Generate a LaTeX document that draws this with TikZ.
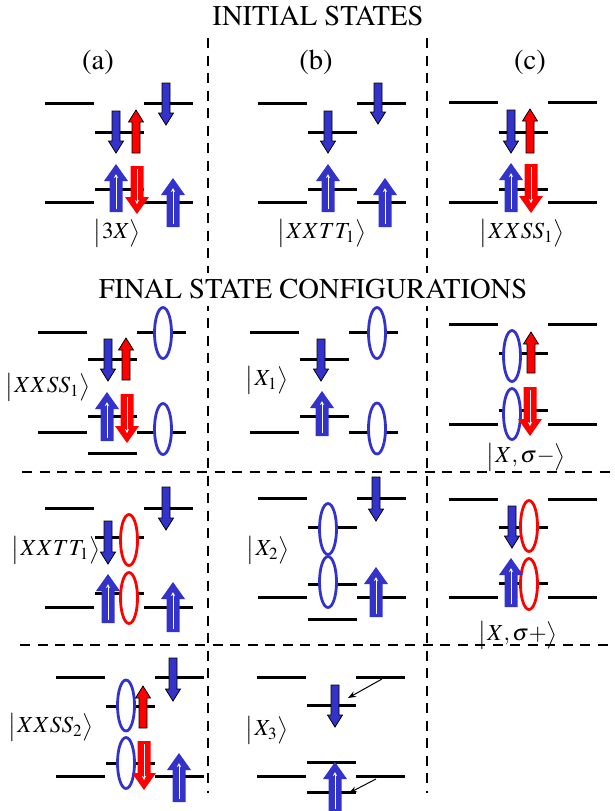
\documentclass[tikz,border=0pt]{standalone}
\usepackage[T1]{fontenc}
\usepackage{mathptmx}
\usepackage{tikz}
\usetikzlibrary{arrows.meta, positioning}
\definecolor{SpinBlue}{RGB}{51, 51, 204}
\definecolor{SpinRed}{RGB}{255, 0, 0}

% six levels of one panel, x measured from the left level
\newcommand{\levels}[4]{%
  \draw[levelline] (0,#1) -- (49,#1) (99,#1) -- (148,#1)
                   (50,#2) -- (99,#2) (50,#3) -- (99,#3)
                   (0,#4) -- (49,#4) (99,#4) -- (148,#4);}
% electron spin: colour, x, tail y, tip y
\newcommand{\spinarrow}[4]{%
  \pgfmathsetmacro{\spinhb}{#4-12*sign(#4-#3)}%
  \filldraw[fill=#1, draw=black, line width=0.4pt]
    ({#2-4},#3) -- ({#2-4},\spinhb) -- ({#2-7.5},\spinhb) -- (#2,#4)
    -- ({#2+7.5},\spinhb) -- ({#2+4},\spinhb) -- ({#2+4},#3) -- cycle;}
% hole spin: colour, x, tail y, tip y
\newcommand{\holearrow}[4]{%
  \pgfmathsetmacro{\holehb}{#4-17*sign(#4-#3)}%
  \pgfmathsetmacro{\holetip}{#4-10*sign(#4-#3)}%
  \pgfmathsetmacro{\holetail}{#3+3*sign(#4-#3)}%
  \fill[#1] ({#2-6.5},#3) -- ({#2-6.5},\holehb) -- ({#2-12},\holehb) -- (#2,#4)
    -- ({#2+12},\holehb) -- ({#2+6.5},\holehb) -- ({#2+6.5},#3) -- cycle;
  \draw[white, line width=0.5pt, -{Stealth[length=2pt, width=2pt]}]
    (#2,\holetail) -- (#2,\holetip);}
% state label
\newcommand{\ketlabel}[1]{$\bigl|\mkern1mu#1\bigr\rangle$}

\begin{document}
\begin{tikzpicture}[x=0.5pt, y=-0.5pt,
    levelline/.style={line width=1.5pt},
    orbit/.style={line width=1.4pt, fill=white, draw=#1},
    divider/.style={dash pattern=on 5pt off 3.75pt, line width=1pt},
    pointer/.style={line width=0.5pt, -{Stealth[length=4pt, width=3pt]}},
    ket/.style={font=\fontsize{11.5}{13}\selectfont, inner sep=0pt},
    heading/.style={font=\fontsize{14.3}{16}\selectfont}]
  \useasboundingbox (0,0) rectangle (615,811);

  % dividers
  \draw[divider] (208,38) -- (208,793);
  \draw[divider] (427,38) -- (427,793);
  \draw[divider] (22,472) -- (612,472);
  \draw[divider] (20,645) -- (615,645);

  \node[heading] (initial) at (318,16) {INITIAL STATES};
  \node[heading, fill=white] (final) at (313,289) {FINAL STATE CONFIGURATIONS};
  \node[heading] (lbla) at (98,62) {(a)};
  \node[heading] (lblb) at (316,62) {(b)};
  \node[heading] (lblc) at (530,62) {(c)};

  % (a) initial
  \begin{scope}[shift={(45,0)}]
    \levels{103}{132}{189}{202}
    \spinarrow{SpinBlue}{121}{83}{125}
    \spinarrow{SpinBlue}{71}{111}{153}
    \spinarrow{SpinRed}{91}{153}{110}
    \holearrow{SpinBlue}{71}{212}{164}
    \holearrow{SpinRed}{92}{166}{214}
    \holearrow{SpinBlue}{128}{227}{178}
    \node[ket] (ka0) at (72,233) {\ketlabel{3X}};
  \end{scope}

  % (b) initial
  \begin{scope}[shift={(258,0)}]
    \levels{103}{132}{189}{202}
    \spinarrow{SpinBlue}{120}{83}{124}
    \spinarrow{SpinBlue}{70}{111}{153}
    \holearrow{SpinBlue}{70}{212}{164}
    \holearrow{SpinBlue}{127}{227}{178}
    \node[ket] (kb0) at (64,233) {\ketlabel{XXTT_1}};
  \end{scope}

  % (c) initial
  \begin{scope}[shift={(449,0)}]
    \levels{102}{132}{189}{202}
    \spinarrow{SpinBlue}{62}{110}{153}
    \spinarrow{SpinRed}{81}{153}{109}
    \holearrow{SpinBlue}{62}{212}{163}
    \holearrow{SpinRed}{82}{164}{213}
    \node[ket] (kc0) at (73,233) {\ketlabel{XXSS_1}};
  \end{scope}

  % (a) final, first row
  \begin{scope}[shift={(38,0)}]
    \levels{332}{359}{416}{432}
    \draw[levelline] (50,453) -- (99,453);
    \draw[orbit=SpinBlue] (125,333) ellipse [x radius=4.25pt, y radius=12.75pt];
    \draw[orbit=SpinBlue] (125,429) ellipse [x radius=4.25pt, y radius=12.75pt];
    \spinarrow{SpinBlue}{70}{339}{381}
    \spinarrow{SpinRed}{88}{380}{338}
    \holearrow{SpinBlue}{69}{441}{392}
    \holearrow{SpinRed}{89}{394}{443}
    \node[ket] (ka1) at (10,387) {\ketlabel{XXSS_1}};
  \end{scope}

  % (b) final, first row
  \begin{scope}[shift={(250,0)}]
    \levels{332}{359}{416}{432}
    \draw[orbit=SpinBlue] (127,333) ellipse [x radius=4.25pt, y radius=12.75pt];
    \draw[orbit=SpinBlue] (127,428.5) ellipse [x radius=4.25pt, y radius=12.75pt];
    \spinarrow{SpinBlue}{71}{339}{381}
    \holearrow{SpinBlue}{72}{436}{391}
    \node[ket] (kb1) at (17,380) {\ketlabel{X_1}};
  \end{scope}

  % (c) final, first row
  \begin{scope}[shift={(449,0)}]
    \levels{324}{353}{410}{424}
    \draw[orbit=SpinBlue] (63,356) ellipse [x radius=4.25pt, y radius=12.75pt];
    \draw[orbit=SpinBlue] (63,414) ellipse [x radius=4.25pt, y radius=12.75pt];
    \spinarrow{SpinRed}{82}{373}{332}
    \holearrow{SpinRed}{81}{387}{436}
    \node[ket] (kc1) at (77,457) {\ketlabel{X,\sigma-}};
  \end{scope}

  % (a) final, second row
  \begin{scope}[shift={(45,0)}]
    \levels{508}{537}{593}{607}
    \spinarrow{SpinBlue}{121}{487}{530}
    \spinarrow{SpinBlue}{63}{521}{564}
    \draw[orbit=SpinRed] (84,540) ellipse [x radius=4.25pt, y radius=12.75pt];
    \draw[orbit=SpinRed] (84,598) ellipse [x radius=4.25pt, y radius=12.75pt];
    \holearrow{SpinBlue}{63}{623}{574}
    \holearrow{SpinBlue}{128}{632}{582}
    \node[ket] (ka2) at (11,550) {\ketlabel{XXTT_1}};
  \end{scope}

  % (b) final, second row
  \begin{scope}[shift={(258,0)}]
    \levels{498}{527}{584}{597}
    \draw[levelline] (50,619) -- (99,619);
    \spinarrow{SpinBlue}{118}{477}{521}
    \draw[orbit=SpinBlue] (70,529) ellipse [x radius=4.25pt, y radius=12.75pt];
    \draw[orbit=SpinBlue] (70,582) ellipse [x radius=4.25pt, y radius=12.75pt];
    \holearrow{SpinBlue}{118}{617}{567}
    \node[ket] (kb2) at (10,550) {\ketlabel{X_2}};
  \end{scope}

  % (c) final, second row
  \begin{scope}[shift={(449,0)}]
    \levels{499}{527}{583}{597}
    \spinarrow{SpinBlue}{63}{506}{548}
    \draw[orbit=SpinRed] (80,526) ellipse [x radius=4.25pt, y radius=12.75pt];
    \draw[orbit=SpinRed] (80,584) ellipse [x radius=4.25pt, y radius=12.75pt];
    \holearrow{SpinBlue}{62}{607}{558}
    \node[ket] (kc2) at (69,635) {\ketlabel{X,\sigma+}};
  \end{scope}

  % (a) final, third row
  \begin{scope}[shift={(56,0)}]
    \levels{677}{706}{763}{776}
    \spinarrow{SpinBlue}{117}{658}{701}
    \draw[orbit=SpinBlue] (70,705.5) ellipse [x radius=4.25pt, y radius=12.75pt];
    \draw[orbit=SpinBlue] (70,763) ellipse [x radius=4.25pt, y radius=12.75pt];
    \spinarrow{SpinRed}{87}{728}{686}
    \holearrow{SpinRed}{88}{741}{790}
    \holearrow{SpinBlue}{123}{802}{753}
    \node[ket] (ka3) at (-5,727) {\ketlabel{XXSS_2}};
  \end{scope}

  % (b) final, third row
  \begin{scope}[shift={(257,0)}]
    \levels{677}{705}{762}{776}
    \draw[levelline] (50,792) -- (99,792);
    \spinarrow{SpinBlue}{78}{685}{727}
    \holearrow{SpinBlue}{78}{812}{762}
    \coordinate (up1) at (125,679);
    \coordinate (up2) at (91,698);
    \coordinate (lo1) at (119,779);
    \coordinate (lo2) at (92,793);
    \draw[pointer] (up1) -- (up2);
    \draw[pointer] (lo1) -- (lo2);
    \node[ket] (kb3) at (10,730) {\ketlabel{X_3}};
  \end{scope}
\end{tikzpicture}
\end{document}
